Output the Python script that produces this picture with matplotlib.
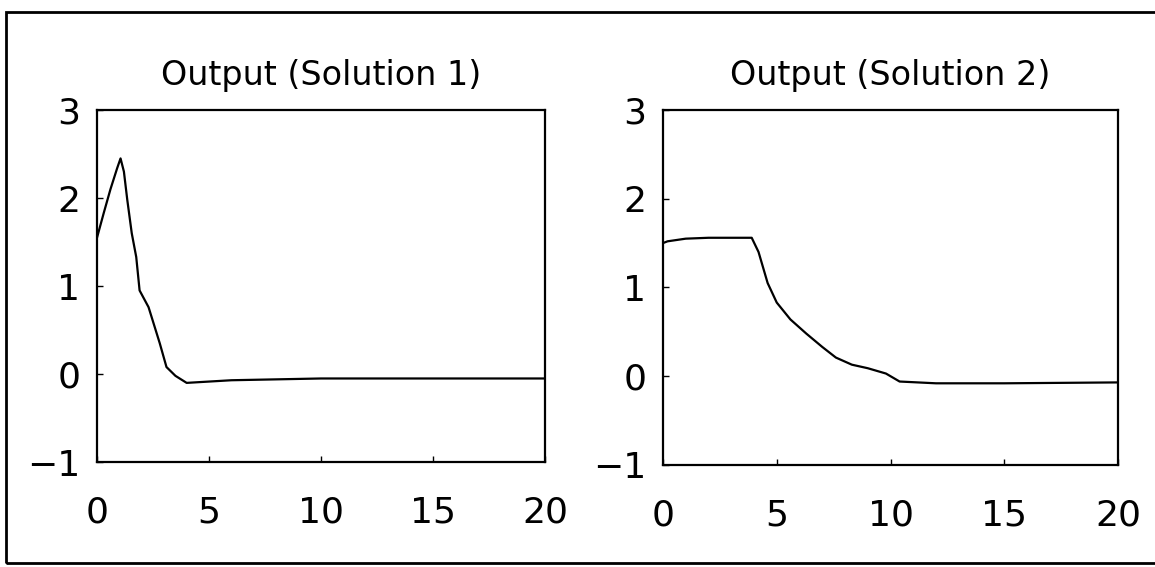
import matplotlib
matplotlib.use("Agg")
import matplotlib.pyplot as plt
from matplotlib.patches import Rectangle

plt.rcParams['font.family'] = ['DejaVu Sans']

# Data
t1 = [0, 0.3, 0.6, 0.9, 1.05, 1.2, 1.35, 1.55, 1.75, 1.9, 2.3, 2.8, 3.1, 3.5, 4.0, 6, 10, 15, 20]
y1 = [1.55, 1.83, 2.1, 2.34, 2.45, 2.3, 1.98, 1.6, 1.33, 0.95, 0.76, 0.35, 0.08, -0.02, -0.1, -0.07, -0.05, -0.05, -0.05]

t2 = [0, 0.2, 1, 2, 3, 3.9, 4.2, 4.6, 5.0, 5.6, 6.3, 7.0, 7.6, 8.3, 9.0, 9.8, 10.4, 12, 15, 20]
y2 = [1.5, 1.52, 1.55, 1.56, 1.56, 1.56, 1.4, 1.05, 0.83, 0.64, 0.48, 0.33, 0.21, 0.13, 0.09, 0.03, -0.06, -0.08, -0.08, -0.07]

titles = ["Output (Solution 1)", "Output (Solution 2)"]
xticks = [0, 5, 10, 15, 20]
yticks = [-1, 0, 1, 2, 3]

fig = plt.figure(figsize=(11.55, 5.67), dpi=100)
fig.patch.set_facecolor('white')

# outer frame of the scanned figure
fig.add_artist(Rectangle((0.005, 0.007), 1.2, 0.972, transform=fig.transFigure,
                         fill=False, edgecolor='black', linewidth=2.0))

positions = [[0.084, 0.185, 0.388, 0.621], [0.574, 0.180, 0.394, 0.626]]
for pos, t, y, title in zip(positions, [t1, t2], [y1, y2], titles):
    ax = fig.add_axes(pos)
    ax.plot(t, y, color='black', linewidth=1.6)
    ax.set_xlim(0, 20)
    ax.set_ylim(-1, 3)
    ax.set_xticks(xticks)
    ax.set_yticks(yticks)
    ax.tick_params(direction='in', length=4, width=1, labelsize=26,
                   top=False, right=False)
    ax.tick_params(axis='x', pad=24)
    ax.tick_params(axis='y', pad=12)
    for s in ax.spines.values():
        s.set_linewidth(1.6)
    ax.set_title(title, fontsize=24, pad=18)

fig.savefig("out.png", dpi=100)
